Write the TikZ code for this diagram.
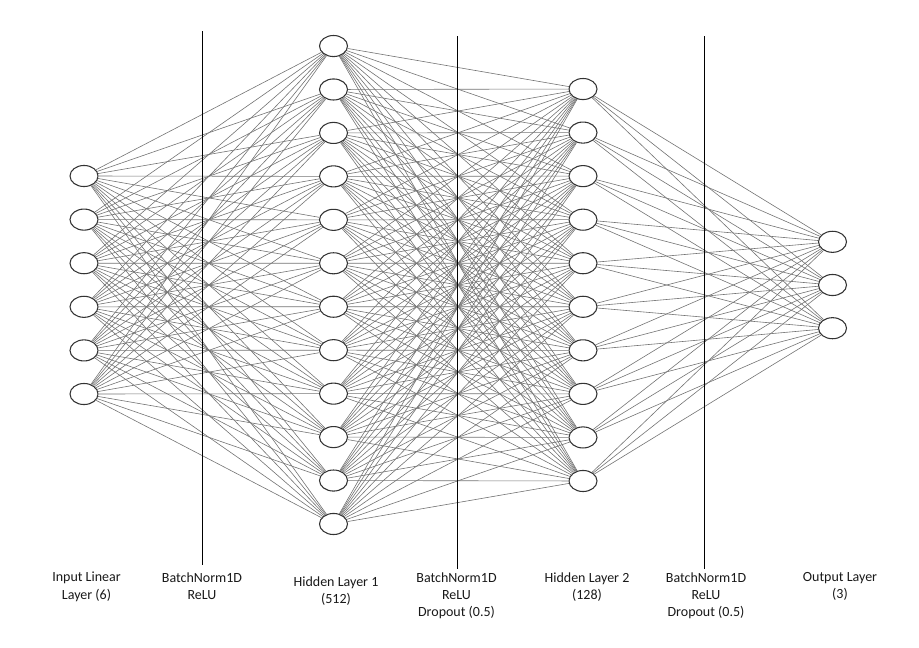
\documentclass[tikz,border=0pt]{standalone}
\usepackage{fontspec}
\setmainfont{Carlito}
\usetikzlibrary{shapes.geometric}
\tikzset{
  neuron/.style={ellipse, draw=black!80, line width=0.8pt, fill=white, minimum width=21pt, minimum height=15.8pt, inner sep=0pt},
  conn/.style={draw=black!55, line width=0.45pt},
  sepline/.style={draw=black, line width=0.75pt},
  lbl/.style={align=center, anchor=north, inner sep=0pt, font=\fontsize{10.5pt}{13.1pt}\selectfont, text=black!90}
}
\begin{document}
\begin{tikzpicture}[x=0.75pt, y=-0.75pt]
\useasboundingbox (0,0) rectangle (919,647);
% nodes
\foreach \k in {1,...,6} { \node[neuron] (i\k) at (84, {285+(\k-3.5)*43.6}) {}; }
\foreach \k in {1,...,12} { \node[neuron] (h\k) at (333.5, {285+(\k-6.5)*43.45}) {}; }
\foreach \k in {1,...,10} { \node[neuron] (g\k) at (583, {285+(\k-5.5)*43.55}) {}; }
\foreach \k in {1,...,3} { \node[neuron] (o\k) at (832.5, {285+(\k-2)*43.2}) {}; }
% connections
\foreach \a in {1,...,6} { \foreach \b in {1,...,12} { \draw[conn] (i\a) -- (h\b); } }
\foreach \a in {1,...,12} { \foreach \b in {1,...,10} { \draw[conn] (h\a) -- (g\b); } }
\foreach \a in {1,...,10} { \foreach \b in {1,...,3} { \draw[conn] (g\a) -- (o\b); } }
% separators
\coordinate (s1t) at (202.5,31); \coordinate (s1b) at (202.5,565);
\coordinate (s2t) at (457.5,36); \coordinate (s2b) at (457.5,569);
\coordinate (s3t) at (704.5,36); \coordinate (s3b) at (704.5,569);
\draw[sepline] (s1t) -- (s1b);
\draw[sepline] (s2t) -- (s2b);
\draw[sepline] (s3t) -- (s3b);
% labels
\node[lbl] (l1) at (86.5,572) {Input Linear\\Layer (6)};
\node[lbl] (l2) at (202,572) {BatchNorm1D\\ReLU};
\node[lbl] (l3) at (336,576) {Hidden Layer 1\\(512)};
\node[lbl] (l4) at (456.5,572) {BatchNorm1D\\ReLU\\Dropout (0.5)};
\node[lbl] (l5) at (587,572) {Hidden Layer 2\\(128)};
\node[lbl] (l6) at (706,572) {BatchNorm1D\\ReLU\\Dropout (0.5)};
\node[lbl] (l7) at (840,572) {Output Layer\\(3)};
\end{tikzpicture}
\end{document}
